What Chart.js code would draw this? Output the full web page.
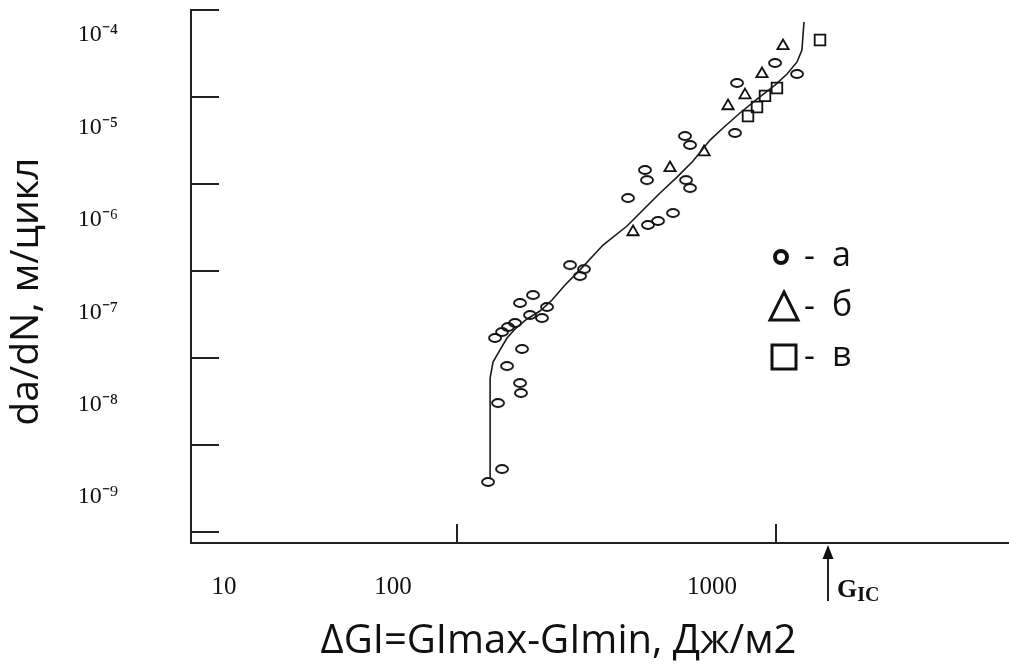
<!DOCTYPE html>
<html>
<head>
<meta charset="utf-8">
<script src="https://cdn.jsdelivr.net/npm/chart.js@4"></script>
<style>
html,body{margin:0;padding:0;background:#fff;}
</style>
</head>
<body>
<canvas id="c" width="1009" height="666"></canvas>
<script>
// ---- data (ΔG in J/m², da/dN in m/cycle) ----
const seriesNames = ['а', 'б', 'в'];

const curveX = [127, 127, 129.7, 136.4, 143.5, 153.1, 165.8, 182.0, 198.6, 218.1, 243.0, 286.9, 341.2, 382.9, 433.0, 489.5, 549.4, 621.2, 682.3, 771.2, 871.9, 992.9, 1083, 1164, 1206, 1224];
const curveY = [4.18e-10, 5.89e-9, 8.99e-9, 1.24e-8, 1.70e-8, 2.21e-8, 2.81e-8, 3.47e-8, 4.64e-8, 6.90e-8, 1.03e-7, 1.99e-7, 3.29e-7, 5.02e-7, 7.88e-7, 1.20e-6, 1.84e-6, 3.20e-6, 4.40e-6, 6.55e-6, 9.48e-6, 1.37e-5, 1.84e-5, 2.53e-5, 3.47e-5, 7.28e-5];

const circleX = [125.1, 138.4, 134.5, 157.6, 158.7, 143.5, 159.9, 131.6, 138.4, 144.5, 152.0, 157.6, 173.1, 191.5, 184.7, 169.4, 226.1, 250.1, 243.0, 343.7, 396.9, 426.7, 475.5, 388.4, 394.1, 522.3, 537.6, 518.5, 537.6, 743.9, 754.7, 1164, 992.9];
const circleY = [3.76e-10, 5.30e-10, 3.04e-9, 5.16e-9, 3.96e-9, 8.09e-9, 1.27e-8, 1.70e-8, 1.99e-8, 2.27e-8, 2.53e-8, 4.29e-8, 5.30e-8, 3.86e-8, 2.88e-8, 3.12e-8, 1.17e-7, 1.05e-7, 8.76e-8, 6.90e-7, 3.38e-7, 3.76e-7, 4.64e-7, 1.45e-6, 1.11e-6, 1.11e-6, 8.99e-7, 3.56e-6, 2.81e-6, 3.86e-6, 1.45e-5, 1.84e-5, 2.46e-5];

const triangleX = [356.3, 465.4, 594.9, 707.3, 799.6, 903.9, 1052];
const triangleY = [2.81e-7, 1.53e-6, 2.33e-6, 7.88e-6, 1.05e-5, 1.84e-5, 3.86e-5];

const squareX = [1374, 1007, 923.7, 871.9, 817.1];
const squareY = [4.52e-5, 1.27e-5, 1.03e-5, 7.68e-6, 6.05e-6];

const G_IC = 1455;

// ---- axes ----
const xMin = 14.66, xMax = 5376;
const yMin = Math.pow(10, -10.126), yMax = 1e-4;
const yLabelMin = Math.pow(10, -9.498), yLabelMax = Math.pow(10, -3.729);

const xTickValues = [100, 1000];
const xTickLabels = ['100', '1000'];
const xFirstLabel = '10';
const yTickValues = [1e-4, 1e-5, 1e-6, 1e-7, 1e-8, 1e-9, 1e-10];
const yLabelValues = [1e-4, 1e-5, 1e-6, 1e-7, 1e-8, 1e-9];
const yTickLabels = ['10⁻⁴', '10⁻⁵', '10⁻⁶', '10⁻⁷', '10⁻⁸', '10⁻⁹'];

const xTitle = 'ΔGI=GImax-GImin, Дж/м2';
const yTitle = 'da/dN, м/цикл';
const gicMain = 'G', gicSub = 'IC';

// ---- styling helpers ----
const INK = '#111';
const AXIS = '#222';
const SERIF = "'Liberation Serif', 'Times New Roman', serif";
const SANS = "'Open Sans', 'DejaVu Sans', sans-serif";
const NB = '\u00A0';

const ellipseMarker = (() => {
  const c = document.createElement('canvas');
  c.width = 16; c.height = 12;
  const g = c.getContext('2d');
  g.strokeStyle = INK; g.lineWidth = 1.8;
  g.beginPath(); g.ellipse(8, 6, 6, 4, 0, 0, Math.PI * 2); g.stroke();
  return c;
})();

const pts = (xs, ys) => xs.map((x, i) => ({x, y: ys[i]}));

const overlay = {
  id: 'overlay',
  afterDraw(chart) {
    const {ctx} = chart;
    const x = chart.scales.x, y = chart.scales.y;
    ctx.save();
    // inner tick marks
    ctx.strokeStyle = AXIS; ctx.lineWidth = 2;
    y.ticks.forEach(t => {
      const py = Math.round(y.getPixelForValue(t.value));
      ctx.beginPath(); ctx.moveTo(x.left, py); ctx.lineTo(x.left + 28, py); ctx.stroke();
    });
    x.ticks.forEach(t => {
      const px = Math.round(x.getPixelForValue(t.value));
      ctx.beginPath(); ctx.moveTo(px, y.bottom); ctx.lineTo(px, y.bottom - 19); ctx.stroke();
    });
    // first x label
    const tfs = x.options.ticks.font.size;
    ctx.fillStyle = INK;
    ctx.font = tfs + 'px ' + SERIF;
    ctx.textAlign = 'center'; ctx.textBaseline = 'middle';
    ctx.fillText(xFirstLabel, x.left + 33, x.top + x.options.ticks.padding + tfs * 1.2 / 2);
    // G_IC arrow
    const gx = Math.round(x.getPixelForValue(G_IC));
    const tip = x.top + 2;
    ctx.lineWidth = 2;
    ctx.beginPath(); ctx.moveTo(gx, tip + 10); ctx.lineTo(gx, tip + 56); ctx.stroke();
    ctx.beginPath(); ctx.moveTo(gx, tip); ctx.lineTo(gx - 5.5, tip + 14); ctx.lineTo(gx + 5.5, tip + 14); ctx.closePath(); ctx.fill();
    ctx.textAlign = 'left'; ctx.textBaseline = 'alphabetic';
    ctx.font = 'bold 26px ' + SERIF;
    ctx.fillText(gicMain, gx + 9, 597);
    const gw = ctx.measureText(gicMain).width;
    ctx.font = 'bold 20px ' + SERIF;
    ctx.fillText(gicSub, gx + 9 + gw, 601);
    // legend
    const lx = 784, ly0 = 257, step = 50;
    ctx.strokeStyle = INK;
    chart.data.datasets.filter(d => d.legendMarker).forEach((d, i) => {
      const cy = ly0 + i * step;
      ctx.beginPath();
      if (d.legendMarker === 'circle') {
        ctx.lineWidth = 4; ctx.arc(lx - 3, cy, 6, 0, Math.PI * 2);
      } else if (d.legendMarker === 'triangle') {
        ctx.lineWidth = 3; ctx.moveTo(lx, cy - 15); ctx.lineTo(lx + 14, cy + 13); ctx.lineTo(lx - 14, cy + 13); ctx.closePath();
      } else {
        ctx.lineWidth = 3; ctx.rect(lx - 12, cy - 12, 24, 24);
      }
      ctx.stroke();
      ctx.font = '34px ' + SANS;
      ctx.fillText('-', lx + 20, cy + 10);
      ctx.fillText(d.label, lx + 48, cy + 9);
    });
    ctx.restore();
  }
};

new Chart(document.getElementById('c'), {
  type: 'scatter',
  data: {
    datasets: [
      {label: 'curve', data: pts(curveX, curveY), showLine: true, pointRadius: 0, borderColor: '#1a1a1a', borderWidth: 1.6, tension: 0, fill: false},
      {label: seriesNames[0], legendMarker: 'circle', data: pts(circleX, circleY), pointStyle: ellipseMarker, pointRadius: 6},
      {label: seriesNames[1], legendMarker: 'triangle', data: pts(triangleX, triangleY), pointStyle: 'triangle', pointRadius: 6.5, borderWidth: 1.8, borderColor: INK, backgroundColor: 'rgba(0,0,0,0)'},
      {label: seriesNames[2], legendMarker: 'rect', data: pts(squareX, squareY), pointStyle: 'rect', pointRadius: 7.5, borderWidth: 1.8, borderColor: INK, backgroundColor: 'rgba(0,0,0,0)'}
    ]
  },
  options: {
    responsive: false,
    animation: false,
    events: [],
    layout: {autoPadding: false, padding: {top: 10, left: 0, right: 0, bottom: 0}},
    plugins: {legend: {display: false}, tooltip: {enabled: false}},
    scales: {
      x: {
        type: 'logarithmic', position: 'bottom', min: xMin, max: xMax,
        afterBuildTicks: s => { s.ticks = xTickValues.map(v => ({value: v})); },
        afterFit: s => { s.height = 123; s.paddingLeft = 0; s.paddingRight = 0; },
        ticks: {callback: (v, i) => xTickLabels[i], labelOffset: -64, padding: 29, autoSkip: false, maxRotation: 0,
                font: {family: SERIF, size: 25}, color: INK},
        grid: {display: false, drawTicks: false},
        border: {display: true, color: AXIS, width: 2},
        title: {display: true, text: xTitle + NB.repeat(8), color: INK, font: {family: SANS, size: 40}, padding: {top: 0, bottom: 0}}
      },
      y: {
        type: 'logarithmic', display: false, min: yMin, max: yMax,
        afterBuildTicks: s => { s.ticks = yTickValues.map(v => ({value: v})); }
      },
      yl: {
        type: 'logarithmic', position: 'left', min: yLabelMin, max: yLabelMax,
        afterBuildTicks: s => { s.ticks = yLabelValues.map(v => ({value: v})); },
        afterFit: s => { s.width = 191; s.paddingTop = 0; s.paddingBottom = 0; },
        ticks: {callback: (v, i) => yTickLabels[i], padding: 73, autoSkip: false,
                font: {family: SERIF, size: 24}, color: INK},
        grid: {display: false, drawTicks: false},
        border: {display: true, color: AXIS, width: 2},
        title: {display: true, text: yTitle + NB.repeat(3), color: INK, font: {family: SANS, size: 39}, padding: {top: 3, bottom: 0}}
      }
    }
  },
  plugins: [overlay]
});
</script>
</body>
</html>
